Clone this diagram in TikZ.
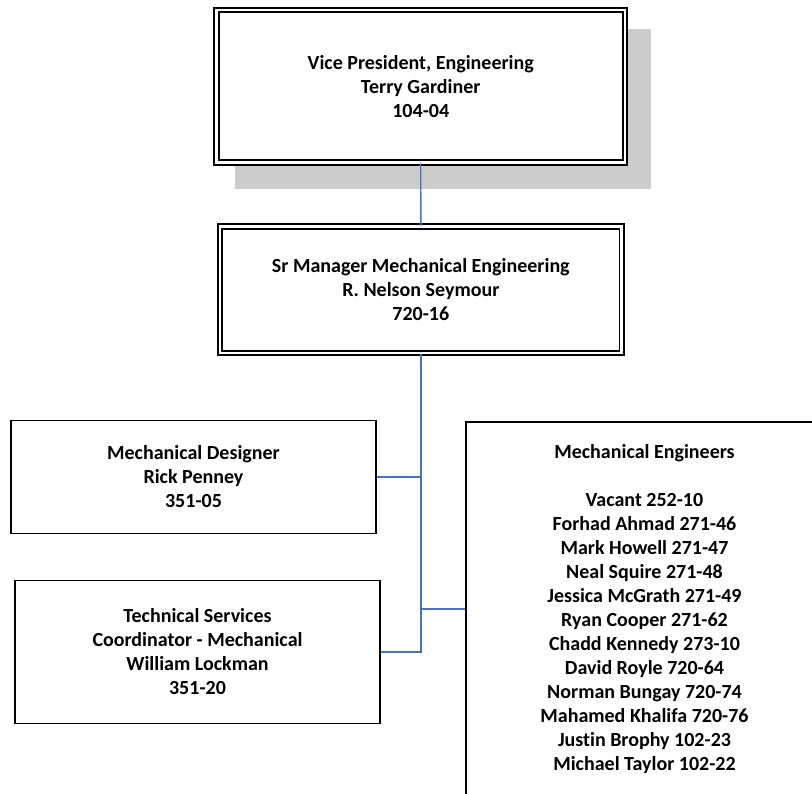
\documentclass[tikz,border=0pt]{standalone}
\usepackage{fontspec}
\setmainfont[Ligatures=NoCommon]{Carlito}
\definecolor{linkblue}{HTML}{4472C4}
\definecolor{shadowgray}{HTML}{CCCCCC}
\begin{document}
\begin{tikzpicture}[x=1pt,y=-1pt,
  txt/.style={font=\fontsize{20}{24}\selectfont\bfseries, align=center, inner sep=0pt},
  dblbox/.style={txt, draw=black, double=white, line width=1.8pt, double distance=2.6pt, rectangle},
  sglbox/.style={txt, draw=black, line width=1.5pt, rectangle},
  link/.style={draw=linkblue, line width=1.4pt}
]
\useasboundingbox (0,0) rectangle (812,794);
% shadow of top box
\node[fill=shadowgray, minimum width=416pt, minimum height=160pt, inner sep=0pt] (vpshadow) at (443,109) {};
% top box
\node[dblbox, fill=white, minimum width=408.5pt, minimum height=152.5pt] (vp) at (420.75,86.25)
  {Vice President, Engineering\\Terry Gardiner\\104-04};
% manager
\node[dblbox, minimum width=401.7pt, minimum height=126.5pt] (mgr) at (420.85,289.75)
  {Sr Manager Mechanical Engineering\\R. Nelson Seymour\\720-16};
% designer
\node[sglbox, minimum width=365pt, minimum height=113pt] (des) at (193.5,477)
  {Mechanical Designer\\Rick Penney\\351-05};
% technical services
\node[sglbox, minimum width=365pt, minimum height=143pt] (tech) at (197.5,652)
  {Technical Services\\Coordinator - Mechanical\\William Lockman\\351-20};
% engineers
\node[sglbox, minimum width=357pt, minimum height=374pt] (eng) at (644.5,609)
  {Mechanical Engineers\\[24pt]Vacant 252-10\\Forhad Ahmad 271-46\\Mark Howell 271-47\\Neal Squire 271-48\\Jessica McGrath 271-49\\Ryan Cooper 271-62\\Chadd Kennedy 273-10\\David Royle 720-64\\Norman Bungay 720-74\\Mahamed Khalifa 720-76\\Justin Brophy 102-23\\Michael Taylor 102-22};
% connectors
\coordinate (trunkbot) at (mgr.south |- tech.east);
\draw[link] (vp.south) -- (mgr.north);
\draw[link] (mgr.south) -- (trunkbot) -- (tech.east);
\draw[link] (des.east) -- (des.east -| mgr.south);
\draw[link] (mgr.south |- eng.west) -- (eng.west);
\end{tikzpicture}
\end{document}
